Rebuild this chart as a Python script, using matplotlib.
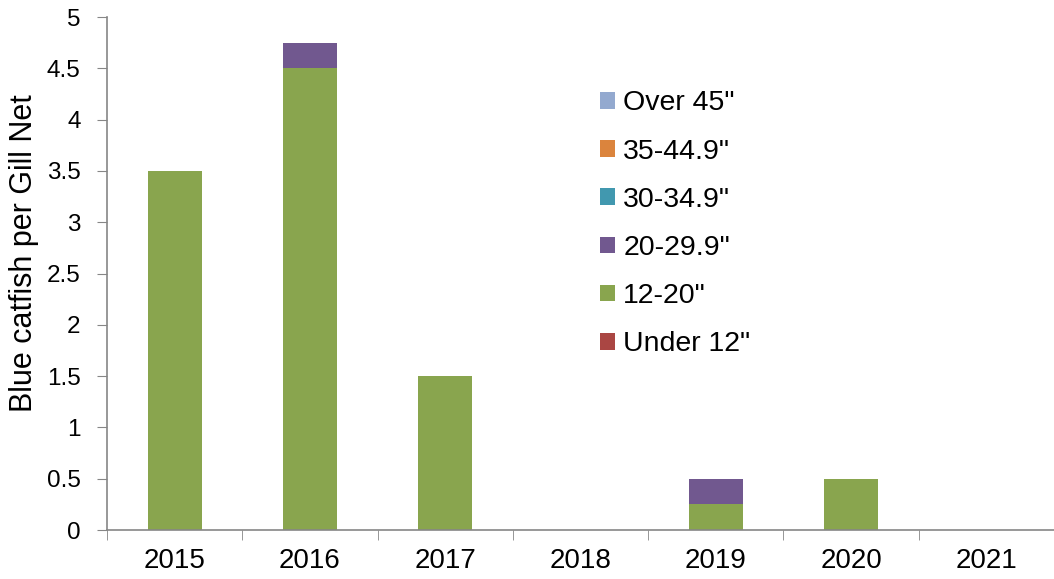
import numpy as np
import matplotlib.pyplot as plt
from matplotlib.ticker import FixedLocator

plt.rcParams['font.family'] = ['Liberation Sans', 'DejaVu Sans']

years = ["2015", "2016", "2017", "2018", "2019", "2020", "2021"]
under_12 = [0, 0, 0, 0, 0, 0, 0]
s12_20 = [3.5, 4.5, 1.5, 0, 0.25, 0.5, 0]
s20_29 = [0, 0.25, 0, 0, 0.25, 0, 0]
s30_34 = [0, 0, 0, 0, 0, 0, 0]
s35_44 = [0, 0, 0, 0, 0, 0, 0]
over_45 = [0, 0, 0, 0, 0, 0, 0]

series = [
    ('Under 12"', under_12, "#AA4643"),
    ('12-20"', s12_20, "#89A54E"),
    ('20-29.9"', s20_29, "#71588F"),
    ('30-34.9"', s30_34, "#4198AF"),
    ('35-44.9"', s35_44, "#DB843D"),
    ('Over 45"', over_45, "#93A9CF"),
]

fig = plt.figure(figsize=(10.54, 5.79), dpi=100)
ax = fig.add_axes([0.1015, 0.0846, 0.8985, 0.886])

x = np.arange(len(years))
bottom = np.zeros(len(years))
handles = []
for name, vals, col in series:
    b = ax.bar(x, vals, 0.4, bottom=bottom, color=col, label=name)
    handles.append(b)
    bottom += np.array(vals)

ax.set_xlim(-0.5, len(years) - 0.5)
ax.set_ylim(0, 5)
ax.set_yticks(np.arange(0, 5.01, 0.5))
ax.set_yticklabels(["0", "0.5", "1", "1.5", "2", "2.5", "3", "3.5", "4", "4.5", "5"])
ax.set_xticks(x)
ax.set_xticklabels(years)
ax.xaxis.set_minor_locator(FixedLocator(np.arange(-0.5, len(years), 1.0)))
ax.tick_params(axis='x', which='major', length=0, labelsize=20, pad=13)
ax.tick_params(axis='x', which='minor', length=7, color="#868686", direction='out')
ax.tick_params(axis='y', length=7, color="#868686", labelsize=17.5, pad=12)

for s in ["top", "right"]:
    ax.spines[s].set_visible(False)
for s in ["left", "bottom"]:
    ax.spines[s].set_color("#868686")
    ax.spines[s].set_linewidth(1.2)

# y label placed by hand (sits a bit above the axis centre)
fig.text(9 / 1054, 1 - 253 / 579, "Blue catfish per Gill Net", fontsize=22,
         rotation=90, ha='left', va='center')

leg = ax.legend(handles[::-1], [h.get_label() for h in handles[::-1]],
                loc="upper left", bbox_to_anchor=(0.4937, 0.907), frameon=False,
                fontsize=20.5, handlelength=0.53, handleheight=0.53,
                handletextpad=0.28, labelspacing=0.78)

plt.savefig("out.png", dpi=100)
